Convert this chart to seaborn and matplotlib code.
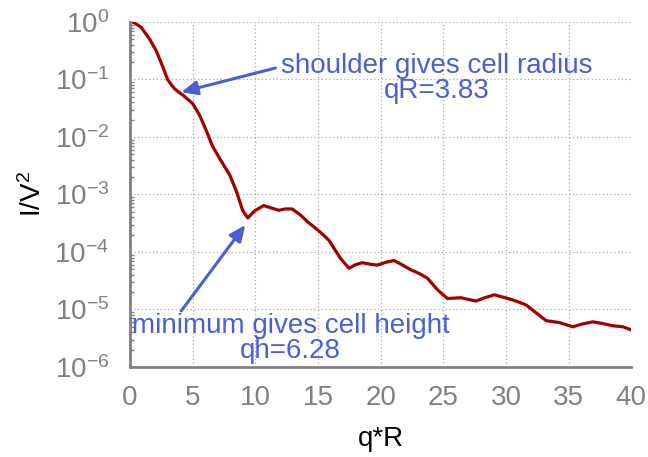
import matplotlib
matplotlib.use("Agg")
import matplotlib.pyplot as plt
import matplotlib.ticker as mticker
import seaborn as sns
import pandas as pd

# ---- data ----
qR = [0.0, 0.27, 0.88, 1.55, 2.08, 2.6, 3.0, 3.3, 3.55, 3.9, 4.2, 5.0, 5.55, 6.08, 6.6,
      7.28, 7.95, 8.48, 9.0, 9.4, 9.95, 10.67, 11.3, 11.87, 12.4, 12.93, 13.6,
      14.2, 14.8, 15.4, 15.87, 16.8, 17.47, 18.0, 18.53, 19.2, 19.73, 20.4, 21.07,
      21.7, 22.4, 23.1, 23.73, 24.53, 25.33, 26.4, 27.6, 28.3, 29.07, 29.7, 30.4,
      31.0, 31.6, 32.27, 33.2, 34.27, 35.33, 36.1, 36.93, 37.7, 38.53, 39.33, 40.0]
I_V2 = [1.0, 0.99, 0.81, 0.51, 0.32, 0.17, 0.10, 0.081, 0.069, 0.060, 0.054, 0.038,
        0.024, 0.013, 0.0068, 0.0038, 0.0022, 0.00115, 0.00052, 0.00039, 0.00052,
        0.00064, 0.00058, 0.00053, 0.00056, 0.00056, 0.00044, 0.00033, 0.00026,
        0.00020, 0.00016, 7.7e-5, 5.2e-5, 6.0e-5, 6.5e-5, 6.1e-5, 5.9e-5, 6.6e-5,
        7.1e-5, 6.0e-5, 4.9e-5, 4.2e-5, 3.5e-5, 2.2e-5, 1.55e-5, 1.6e-5, 1.4e-5,
        1.6e-5, 1.8e-5, 1.65e-5, 1.5e-5, 1.35e-5, 1.2e-5, 9.2e-6, 6.4e-6, 5.9e-6,
        5.0e-6, 5.6e-6, 6.1e-6, 5.7e-6, 5.2e-6, 5.0e-6, 4.4e-6]
x_ticks = [0, 5, 10, 15, 20, 25, 30, 35, 40]
y_ticks = [1e-6, 1e-5, 1e-4, 1e-3, 1e-2, 1e-1, 1e0]
note1 = "shoulder gives cell radius\nqR=3.83"
note2 = "minimum gives cell height\nqh=6.28"

df = pd.DataFrame({"qR": qR, "I": I_V2})

sns.set_theme(style="white")
plt.rcParams["font.family"] = ["Liberation Sans", "DejaVu Sans"]
plt.rcParams["mathtext.fontset"] = "custom"
plt.rcParams["mathtext.rm"] = "Liberation Sans"
plt.rcParams["mathtext.it"] = "Liberation Sans:italic"
plt.rcParams["mathtext.default"] = "regular"

fig = plt.figure(figsize=(6.48, 4.57), dpi=100)
ax = fig.add_axes([0.2006, 0.197, 0.7737, 0.755])

sns.lineplot(data=df, x="qR", y="I", ax=ax, color="#a00000", linewidth=2.3)
ax.set_yscale("log")
ax.set_xlim(0, 40)
ax.set_ylim(1e-6, 1)
ax.set_xticks(x_ticks)
ax.set_yticks(y_ticks)
ax.yaxis.set_major_formatter(mticker.LogFormatterSciNotation())
ax.yaxis.set_minor_locator(mticker.LogLocator(base=10, subs=range(2, 10), numticks=20))
ax.yaxis.set_minor_formatter(mticker.NullFormatter())

grey = "#808080"
ax.grid(True, which="major", linestyle=(0, (1, 2)), color="#a8a8a8", linewidth=0.9)
for s in ["top", "right"]:
    ax.spines[s].set_visible(False)
for s in ["left", "bottom"]:
    ax.spines[s].set_color(grey)
    ax.spines[s].set_linewidth(2)
ax.tick_params(axis="both", which="major", direction="in", length=5, width=1.2,
               color=grey, labelcolor=grey, labelsize=20)
ax.tick_params(axis="x", which="major", pad=13)
ax.tick_params(axis="y", which="major", pad=15)
ax.tick_params(axis="y", which="minor", direction="in", length=3, width=1, color=grey, left=True)

ax.set_xlabel("q*R", fontsize=20, color="black", labelpad=11)
ax.set_ylabel(r"I/V$^2$", fontsize=20, color="black", labelpad=5)

blue = "#4a5fd4"
ax.annotate("", xy=(4.08, 0.06), xytext=(11.6, 0.158),
            arrowprops=dict(arrowstyle="-|>,head_length=0.8,head_width=0.35",
                            color=blue, lw=2.2, shrinkA=0, shrinkB=0))
ax.text(24.5, 10 ** -0.98, note1, color=blue, fontsize=20, ha="center", va="center",
        linespacing=0.95)
ax.annotate("", xy=(9.2, 2.95e-4), xytext=(4.08, 9.4e-6),
            arrowprops=dict(arrowstyle="-|>,head_length=0.8,head_width=0.35",
                            color=blue, lw=2.2, shrinkA=0, shrinkB=0))
ax.text(12.8, 10 ** -5.5, note2, color=blue, fontsize=20, ha="center", va="center",
        linespacing=0.95)

fig.savefig("out.png", dpi=100)
